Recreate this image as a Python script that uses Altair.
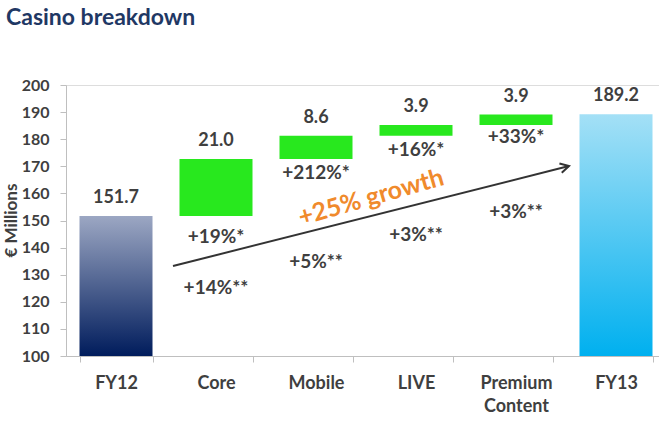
import altair as alt
import pandas as pd

# ---- data ----
categories = ["FY12", "Core", "Mobile", "LIVE", "Premium Content", "FY13"]
bar_start = [100.0, 151.7, 172.7, 181.3, 185.2, 100.0]
bar_end = [151.7, 172.7, 181.3, 185.2, 189.1, 189.2]
value_labels = ["151.7", "21.0", "8.6", "3.9", "3.9", "189.2"]
bar_kind = ["start", "delta", "delta", "delta", "delta", "end"]

ann_cats = ["Core", "Core", "Mobile", "Mobile", "LIVE", "LIVE",
            "Premium Content", "Premium Content"]
ann_text = ["+19%*", "+14%**", "+212%*", "+5%**", "+16%*", "+3%**", "+33%*", "+3%**"]
ann_y = [143.9, 125.1, 167.5, 134.7, 176.0, 144.6, 180.8, 153.1]

# growth arrow (x in category-index units, y in € millions)
arrow_x = [1.07, 5.03]
arrow_y = [133.2, 170.1]
growth_label = "+25% growth"
growth_x = [3.05]
growth_y = [158.5]
y_ticks = [100, 110, 120, 130, 140, 150, 160, 170, 180, 190, 200]

FONT = "Lato"
TXT = "#3f3f3f"

bars = pd.DataFrame({"cat": categories, "start": bar_start, "end": bar_end,
                     "label": value_labels, "kind": bar_kind})
ann = pd.DataFrame({"cat": ann_cats, "text": ann_text, "y": ann_y})
arrow = pd.DataFrame({"x": arrow_x, "y": arrow_y})
arrow_head = arrow.iloc[[1]]
growth = pd.DataFrame({"x": growth_x, "y": growth_y, "t": [growth_label]})

xscale = alt.Scale(domain=categories, range=[0, 600], paddingInner=0.27, paddingOuter=0.135)
yscale = alt.Scale(domain=[100, 200], nice=False)

X_AXIS = alt.Axis(labelAngle=0, labelFont=FONT, labelFontSize=18,
                  labelFontWeight="bold", labelColor=TXT,
                  labelExpr="datum.label == 'Premium Content' ? ['Premium', 'Content'] : datum.label",
                  labelLineHeight=23, labelPadding=12,
                  tickBand="extent", tickSize=6, tickColor="#bfbfbf",
                  domainColor="#bfbfbf", grid=False)
Y_AXIS = alt.Axis(title="€ Millions", values=y_ticks, labelOverlap=False,
                  labelFont=FONT, labelFontSize=16, labelFontWeight="bold",
                  labelColor=TXT, labelPadding=11, tickSize=6,
                  tickColor="#bfbfbf", domainColor="#bfbfbf", grid=False,
                  titleFont=FONT, titleFontSize=17, titleFontWeight="bold",
                  titleColor=TXT, titleX=-46, titleY=135,
                  titleBaseline="bottom", titleAngle=270)


def X(field):
    return alt.X(field, sort=categories, scale=xscale, title=None, axis=X_AXIS)


def Y(field):
    return alt.Y(field, scale=yscale, title="€ Millions", axis=Y_AXIS)


base = alt.Chart(bars).encode(x=X("cat:N"), y=Y("start:Q"), y2="end:Q")

grad_fy12 = alt.Gradient(gradient="linear", x1=0, x2=0, y1=0, y2=1,
                         stops=[alt.GradientStop(color="#9ca7c3", offset=0),
                                alt.GradientStop(color="#001c5c", offset=1)])
grad_fy13 = alt.Gradient(gradient="linear", x1=0, x2=0, y1=0, y2=1,
                         stops=[alt.GradientStop(color="#a4e0f6", offset=0),
                                alt.GradientStop(color="#00b0ef", offset=1)])

fy12 = base.transform_filter("datum.kind == 'start'").mark_bar(color=grad_fy12)
fy13 = base.transform_filter("datum.kind == 'end'").mark_bar(color=grad_fy13)
deltas = base.transform_filter("datum.kind == 'delta'").mark_bar(color="#28e81e")

labels = alt.Chart(bars).mark_text(font=FONT, fontSize=18, fontWeight="bold",
                                   color=TXT, baseline="bottom", dy=-9).encode(
    x=X("cat:N"), y=Y("end:Q"), text="label:N")

annots = alt.Chart(ann).mark_text(font=FONT, fontSize=19, fontWeight="bold",
                                  color=TXT, baseline="middle").encode(
    x=X("cat:N"), y=Y("y:Q"), text="text:N")

qx = alt.Scale(domain=[0, 6], range=[0, 600])
arrow_line = alt.Chart(arrow).mark_line(color="#333333", strokeWidth=2).encode(
    x=alt.X("x:Q", scale=qx, axis=None), y=Y("y:Q"))
arrow_tip = alt.Chart(arrow_head).mark_point(
    shape="M -1 -0.55 L 0 0 L -1 0.55", filled=False, strokeWidth=2,
    size=300, angle=345.8, color="#333333", opacity=1).encode(
    x=alt.X("x:Q", scale=qx, axis=None), y=Y("y:Q"))
growth_txt = alt.Chart(growth).mark_text(font=FONT, fontSize=25, fontWeight="bold",
                                         color="#f08a2c", angle=344).encode(
    x=alt.X("x:Q", scale=qx, axis=None), y=Y("y:Q"), text="t:N")

main = alt.layer(fy12, fy13, deltas, labels, annots)
over = alt.layer(arrow_line, arrow_tip, growth_txt)

chart = alt.layer(main, over).resolve_scale(x="independent").properties(
    width=593, height=271,
    autosize=alt.AutoSizeParams(type="none"),
    padding={"left": 66, "top": 85, "right": 0, "bottom": 68},
    title=alt.TitleParams("Casino breakdown", anchor="start", frame="bounds",
                          font=FONT, fontSize=23, fontWeight="bold",
                          color="#1f3864", offset=47, dx=4),
).configure_view(stroke=None).configure(background="white")

chart.save("out.html", embed_options={"renderer": "svg", "actions": False})
